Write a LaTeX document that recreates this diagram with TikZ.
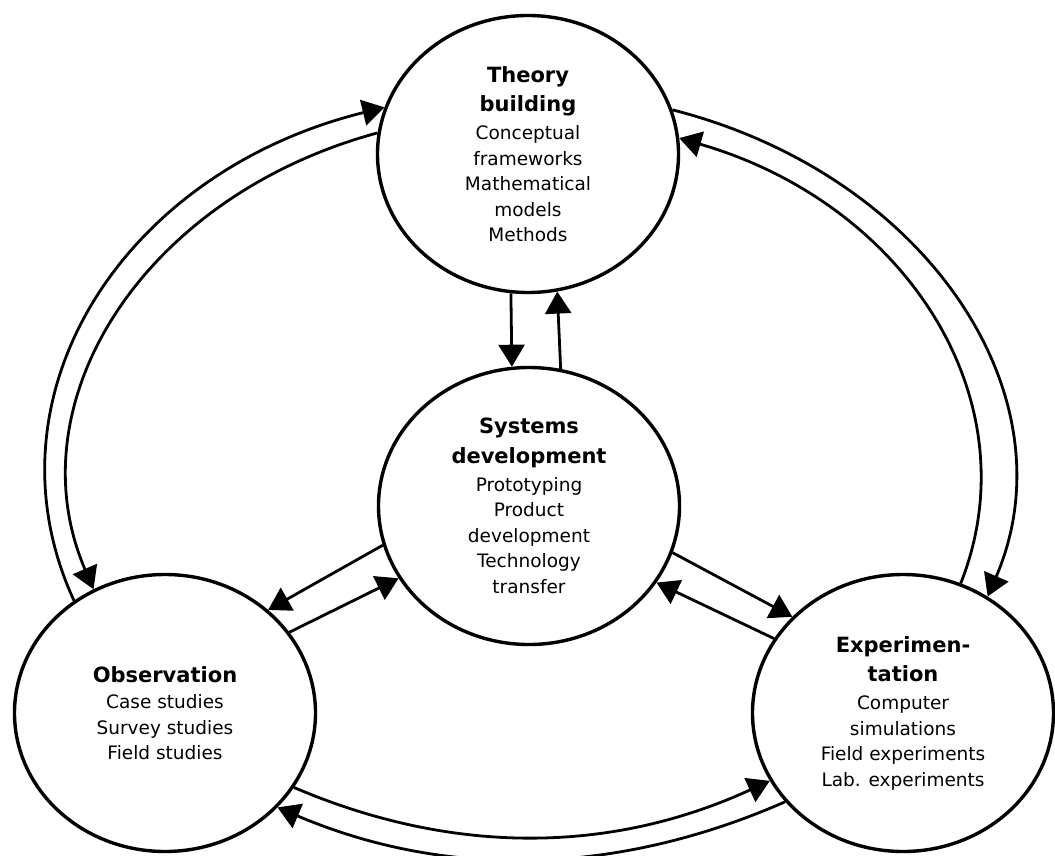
\documentclass[tikz,border=0pt]{standalone}
\usepackage{fontspec}
\setmainfont{DejaVu Sans}
\usetikzlibrary{arrows.meta,shapes.geometric}

% fonts for the stage titles and their item lists
\newcommand\headfont{\bfseries\fontsize{21}{25.5}\selectfont}
\newcommand\bodyfont{\mdseries\fontsize{18.5}{25.5}\selectfont}
% one bold title line
\newcommand\hd[1]{{\headfont #1}}

\begin{document}
\begin{tikzpicture}[x=1pt,y=-1pt,
  stage/.style={draw, ellipse, line width=3.4pt, fill=white,
    minimum width=301pt, minimum height=277pt, inner sep=0pt,
    align=center, font=\bodyfont},
  link/.style={line width=2.8pt, -{Triangle[length=22pt,width=26pt]}},
]
\useasboundingbox (0,0) rectangle (1055,855);

% the four research stages
\node[stage] (T) at (528,154) {\hd{Theory}\\[4pt]\hd{building}\\[2.5pt]Conceptual\\frameworks\\Mathematical\\models\\Methods};
\node[stage] (S) at (529,506) {\hd{Systems}\\[4pt]\hd{development}\\[2.5pt]Prototyping\\Product\\development\\Technology\\transfer};
\node[stage] (O) at (165,713) {\hd{Observation}\\[1pt]Case studies\\Survey studies\\Field studies};
\node[stage] (E) at (903,713) {\hd{Experimen-}\\[4pt]\hd{tation}\\[2.5pt]Computer\\simulations\\Field experiments\\Lab. experiments};

% straight links around the central stage
\draw[link] (T.263) -- (S.97);
\draw[link] (S.77.5) -- (T.282.8);
\draw[link] (S.195.9) -- (O.45.8);
\draw[link] (O.33) -- (S.209.7);
\draw[link] (S.342.5) -- (E.139.4);
\draw[link] (E.150.3) -- (S.329.9);

% outer loop: left pair
\draw[link] (O.129.5) .. controls +(-94,-204) and +(-263,65) .. (T.162.2);
\draw[link] (T.172.8) .. controls +(-236,64) and +(-80,-186) .. (O.120.1);
% outer loop: right pair
\draw[link] (T.17) .. controls +(255,65) and +(86,-200) .. (E.54.1);
\draw[link] (E.66.1) .. controls +(72,-182) and +(228,66) .. (T.6.3);
% outer loop: bottom pair
\draw[link] (O.330) .. controls +(159,68) and +(-159,73) .. (E.207.1);
\draw[link] (E.217.5) .. controls +(-171,75) and +(167,71) .. (O.320.4);
\end{tikzpicture}
\end{document}
